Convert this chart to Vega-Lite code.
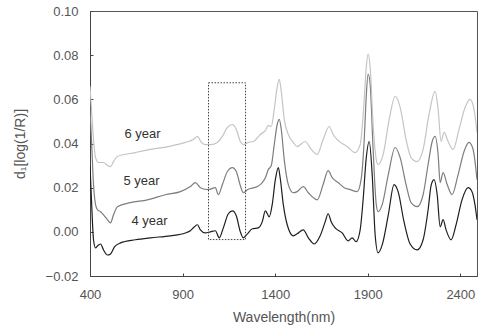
{
  "$schema": "https://vega.github.io/schema/vega-lite/v6.json",
  "width": 387,
  "height": 265,
  "autosize": {"type": "none"},
  "padding": {"left": 90, "top": 11, "right": 1, "bottom": 51},
  "background": "white",
  "config": {
    "view": {"stroke": "#555", "strokeWidth": 1},
    "font": "Liberation Sans",
    "axis": {"grid": false, "domainColor": "#444", "tickColor": "#444", "labelColor": "#555", "titleColor": "#555", "labelFontSize": 13, "titleFontSize": 14, "titleFontWeight": "normal", "labelFont": "Liberation Sans", "titleFont": "Liberation Sans"}
  },
  "datasets": {
    "spectra": [
      {"s":"4 year","x":400,"y":0.0300},{"s":"4 year","x":408,"y":0.0145},{"s":"4 year","x":419,"y":-0.0036},{"s":"4 year","x":430,"y":-0.0073},{"s":"4 year","x":440,"y":-0.0064},{"s":"4 year","x":457,"y":-0.0055},{"s":"4 year","x":473,"y":-0.0082},{"s":"4 year","x":494,"y":-0.0105},{"s":"4 year","x":511,"y":-0.0100},{"s":"4 year","x":532,"y":-0.0068},{"s":"4 year","x":565,"y":-0.0050},{"s":"4 year","x":645,"y":-0.0036},{"s":"4 year","x":726,"y":-0.0027},{"s":"4 year","x":834,"y":-0.0018},{"s":"4 year","x":915,"y":-0.0005},{"s":"4 year","x":942,"y":0.0005},{"s":"4 year","x":964,"y":0.0023},{"s":"4 year","x":980,"y":0.0032},{"s":"4 year","x":996,"y":0.0009},{"s":"4 year","x":1023,"y":-0.0005},{"s":"4 year","x":1050,"y":0.0000},{"s":"4 year","x":1077,"y":0.0005},{"s":"4 year","x":1098,"y":-0.0027},{"s":"4 year","x":1120,"y":0.0018},{"s":"4 year","x":1147,"y":0.0082},{"s":"4 year","x":1169,"y":0.0095},{"s":"4 year","x":1190,"y":0.0073},{"s":"4 year","x":1212,"y":0.0000},{"s":"4 year","x":1228,"y":-0.0027},{"s":"4 year","x":1250,"y":-0.0009},{"s":"4 year","x":1277,"y":0.0014},{"s":"4 year","x":1309,"y":0.0018},{"s":"4 year","x":1330,"y":0.0045},{"s":"4 year","x":1347,"y":0.0095},{"s":"4 year","x":1368,"y":0.0068},{"s":"4 year","x":1384,"y":0.0123},{"s":"4 year","x":1401,"y":0.0236},{"s":"4 year","x":1417,"y":0.0291},{"s":"4 year","x":1427,"y":0.0245},{"s":"4 year","x":1444,"y":0.0123},{"s":"4 year","x":1465,"y":0.0032},{"s":"4 year","x":1498,"y":-0.0018},{"s":"4 year","x":1519,"y":-0.0009},{"s":"4 year","x":1552,"y":0.0009},{"s":"4 year","x":1579,"y":-0.0027},{"s":"4 year","x":1611,"y":-0.0055},{"s":"4 year","x":1643,"y":-0.0018},{"s":"4 year","x":1670,"y":0.0045},{"s":"4 year","x":1686,"y":0.0082},{"s":"4 year","x":1703,"y":0.0045},{"s":"4 year","x":1724,"y":0.0018},{"s":"4 year","x":1762,"y":-0.0005},{"s":"4 year","x":1794,"y":-0.0041},{"s":"4 year","x":1816,"y":-0.0027},{"s":"4 year","x":1837,"y":-0.0045},{"s":"4 year","x":1859,"y":0.0009},{"s":"4 year","x":1875,"y":0.0145},{"s":"4 year","x":1891,"y":0.0327},{"s":"4 year","x":1908,"y":0.0409},{"s":"4 year","x":1924,"y":0.0259},{"s":"4 year","x":1940,"y":-0.0014},{"s":"4 year","x":1956,"y":-0.0095},{"s":"4 year","x":1978,"y":-0.0059},{"s":"4 year","x":2011,"y":0.0077},{"s":"4 year","x":2042,"y":0.0214},{"s":"4 year","x":2064,"y":0.0182},{"s":"4 year","x":2096,"y":0.0045},{"s":"4 year","x":2129,"y":-0.0055},{"s":"4 year","x":2167,"y":-0.0082},{"s":"4 year","x":2199,"y":-0.0036},{"s":"4 year","x":2226,"y":0.0100},{"s":"4 year","x":2242,"y":0.0209},{"s":"4 year","x":2258,"y":0.0236},{"s":"4 year","x":2275,"y":0.0168},{"s":"4 year","x":2291,"y":0.0023},{"s":"4 year","x":2307,"y":0.0055},{"s":"4 year","x":2323,"y":0.0009},{"s":"4 year","x":2350,"y":-0.0036},{"s":"4 year","x":2377,"y":0.0032},{"s":"4 year","x":2409,"y":0.0145},{"s":"4 year","x":2442,"y":0.0200},{"s":"4 year","x":2463,"y":0.0182},{"s":"4 year","x":2479,"y":0.0123},{"s":"4 year","x":2490,"y":0.0055},
      {"s":"5 year","x":400,"y":0.0555},{"s":"5 year","x":408,"y":0.0418},{"s":"5 year","x":419,"y":0.0214},{"s":"5 year","x":430,"y":0.0123},{"s":"5 year","x":440,"y":0.0100},{"s":"5 year","x":457,"y":0.0091},{"s":"5 year","x":473,"y":0.0077},{"s":"5 year","x":494,"y":0.0055},{"s":"5 year","x":511,"y":0.0041},{"s":"5 year","x":527,"y":0.0077},{"s":"5 year","x":548,"y":0.0114},{"s":"5 year","x":618,"y":0.0132},{"s":"5 year","x":710,"y":0.0145},{"s":"5 year","x":807,"y":0.0168},{"s":"5 year","x":888,"y":0.0182},{"s":"5 year","x":942,"y":0.0205},{"s":"5 year","x":969,"y":0.0223},{"s":"5 year","x":996,"y":0.0200},{"s":"5 year","x":1039,"y":0.0191},{"s":"5 year","x":1077,"y":0.0200},{"s":"5 year","x":1093,"y":0.0168},{"s":"5 year","x":1115,"y":0.0214},{"s":"5 year","x":1142,"y":0.0273},{"s":"5 year","x":1169,"y":0.0291},{"s":"5 year","x":1190,"y":0.0273},{"s":"5 year","x":1212,"y":0.0209},{"s":"5 year","x":1228,"y":0.0177},{"s":"5 year","x":1250,"y":0.0191},{"s":"5 year","x":1304,"y":0.0205},{"s":"5 year","x":1330,"y":0.0223},{"s":"5 year","x":1347,"y":0.0245},{"s":"5 year","x":1363,"y":0.0282},{"s":"5 year","x":1379,"y":0.0300},{"s":"5 year","x":1395,"y":0.0395},{"s":"5 year","x":1411,"y":0.0486},{"s":"5 year","x":1422,"y":0.0509},{"s":"5 year","x":1433,"y":0.0464},{"s":"5 year","x":1449,"y":0.0327},{"s":"5 year","x":1471,"y":0.0214},{"s":"5 year","x":1498,"y":0.0177},{"s":"5 year","x":1519,"y":0.0182},{"s":"5 year","x":1552,"y":0.0205},{"s":"5 year","x":1579,"y":0.0177},{"s":"5 year","x":1627,"y":0.0145},{"s":"5 year","x":1659,"y":0.0214},{"s":"5 year","x":1686,"y":0.0277},{"s":"5 year","x":1708,"y":0.0245},{"s":"5 year","x":1740,"y":0.0223},{"s":"5 year","x":1773,"y":0.0200},{"s":"5 year","x":1805,"y":0.0191},{"s":"5 year","x":1843,"y":0.0182},{"s":"5 year","x":1864,"y":0.0236},{"s":"5 year","x":1881,"y":0.0418},{"s":"5 year","x":1891,"y":0.0600},{"s":"5 year","x":1902,"y":0.0714},{"s":"5 year","x":1913,"y":0.0668},{"s":"5 year","x":1929,"y":0.0373},{"s":"5 year","x":1946,"y":0.0123},{"s":"5 year","x":1956,"y":0.0091},{"s":"5 year","x":1978,"y":0.0123},{"s":"5 year","x":2011,"y":0.0259},{"s":"5 year","x":2048,"y":0.0382},{"s":"5 year","x":2075,"y":0.0336},{"s":"5 year","x":2107,"y":0.0214},{"s":"5 year","x":2134,"y":0.0132},{"s":"5 year","x":2167,"y":0.0114},{"s":"5 year","x":2199,"y":0.0168},{"s":"5 year","x":2226,"y":0.0305},{"s":"5 year","x":2248,"y":0.0409},{"s":"5 year","x":2264,"y":0.0432},{"s":"5 year","x":2280,"y":0.0350},{"s":"5 year","x":2291,"y":0.0223},{"s":"5 year","x":2307,"y":0.0268},{"s":"5 year","x":2329,"y":0.0214},{"s":"5 year","x":2355,"y":0.0168},{"s":"5 year","x":2388,"y":0.0259},{"s":"5 year","x":2420,"y":0.0364},{"s":"5 year","x":2447,"y":0.0405},{"s":"5 year","x":2469,"y":0.0373},{"s":"5 year","x":2490,"y":0.0236},
      {"s":"6 year","x":400,"y":0.0659},{"s":"6 year","x":408,"y":0.0555},{"s":"6 year","x":419,"y":0.0418},{"s":"6 year","x":430,"y":0.0336},{"s":"6 year","x":446,"y":0.0314},{"s":"6 year","x":473,"y":0.0314},{"s":"6 year","x":494,"y":0.0300},{"s":"6 year","x":511,"y":0.0295},{"s":"6 year","x":527,"y":0.0318},{"s":"6 year","x":548,"y":0.0341},{"s":"6 year","x":645,"y":0.0359},{"s":"6 year","x":726,"y":0.0373},{"s":"6 year","x":823,"y":0.0386},{"s":"6 year","x":915,"y":0.0405},{"s":"6 year","x":958,"y":0.0418},{"s":"6 year","x":980,"y":0.0432},{"s":"6 year","x":1001,"y":0.0405},{"s":"6 year","x":1023,"y":0.0395},{"s":"6 year","x":1050,"y":0.0395},{"s":"6 year","x":1088,"y":0.0405},{"s":"6 year","x":1115,"y":0.0432},{"s":"6 year","x":1142,"y":0.0473},{"s":"6 year","x":1169,"y":0.0486},{"s":"6 year","x":1190,"y":0.0464},{"s":"6 year","x":1212,"y":0.0409},{"s":"6 year","x":1228,"y":0.0395},{"s":"6 year","x":1255,"y":0.0405},{"s":"6 year","x":1282,"y":0.0409},{"s":"6 year","x":1320,"y":0.0441},{"s":"6 year","x":1347,"y":0.0459},{"s":"6 year","x":1363,"y":0.0482},{"s":"6 year","x":1379,"y":0.0477},{"s":"6 year","x":1395,"y":0.0555},{"s":"6 year","x":1411,"y":0.0655},{"s":"6 year","x":1422,"y":0.0691},{"s":"6 year","x":1433,"y":0.0636},{"s":"6 year","x":1449,"y":0.0509},{"s":"6 year","x":1471,"y":0.0441},{"s":"6 year","x":1498,"y":0.0405},{"s":"6 year","x":1519,"y":0.0386},{"s":"6 year","x":1562,"y":0.0409},{"s":"6 year","x":1595,"y":0.0373},{"s":"6 year","x":1627,"y":0.0350},{"s":"6 year","x":1659,"y":0.0418},{"s":"6 year","x":1692,"y":0.0477},{"s":"6 year","x":1713,"y":0.0441},{"s":"6 year","x":1740,"y":0.0414},{"s":"6 year","x":1789,"y":0.0386},{"s":"6 year","x":1832,"y":0.0359},{"s":"6 year","x":1859,"y":0.0395},{"s":"6 year","x":1881,"y":0.0600},{"s":"6 year","x":1891,"y":0.0736},{"s":"6 year","x":1902,"y":0.0805},{"s":"6 year","x":1913,"y":0.0745},{"s":"6 year","x":1929,"y":0.0486},{"s":"6 year","x":1946,"y":0.0327},{"s":"6 year","x":1956,"y":0.0305},{"s":"6 year","x":1983,"y":0.0350},{"s":"6 year","x":2016,"y":0.0509},{"s":"6 year","x":2048,"y":0.0614},{"s":"6 year","x":2075,"y":0.0564},{"s":"6 year","x":2107,"y":0.0418},{"s":"6 year","x":2134,"y":0.0336},{"s":"6 year","x":2167,"y":0.0318},{"s":"6 year","x":2199,"y":0.0373},{"s":"6 year","x":2231,"y":0.0532},{"s":"6 year","x":2264,"y":0.0636},{"s":"6 year","x":2280,"y":0.0555},{"s":"6 year","x":2296,"y":0.0409},{"s":"6 year","x":2312,"y":0.0450},{"s":"6 year","x":2334,"y":0.0409},{"s":"6 year","x":2361,"y":0.0373},{"s":"6 year","x":2393,"y":0.0464},{"s":"6 year","x":2426,"y":0.0564},{"s":"6 year","x":2452,"y":0.0600},{"s":"6 year","x":2474,"y":0.0555},{"s":"6 year","x":2490,"y":0.0450}
    ],
    "labels": [
      {"label":"6 year","x":684,"y":0.0445},
      {"label":"5 year","x":678,"y":0.0232},
      {"label":"4 year","x":721,"y":0.0050}
    ],
    "box": [
      {"x1":1040,"x2":1240,"y1":-0.0035,"y2":0.0675}
    ]
  },
  "layer": [
    {
      "data": {"name": "spectra"},
      "mark": {"type": "line", "interpolate": "monotone", "strokeWidth": 1.2, "clip": true},
      "encoding": {
        "x": {"field": "x", "type": "quantitative", "scale": {"domain": [400, 2490], "nice": false, "zero": false},
              "axis": {"values": [400, 900, 1400, 1900, 2400], "format": "d", "title": "Wavelength(nm)", "tickSize": -3, "labelPadding": 15, "titlePadding": 9, "labelFlush": false}},
        "y": {"field": "y", "type": "quantitative", "scale": {"domain": [-0.02, 0.10], "nice": false, "zero": false},
              "axis": {"values": [-0.02, 0, 0.02, 0.04, 0.06, 0.08, 0.10], "format": ".2f", "title": "d₁[log(1/R)]", "tickSize": -3, "labelPadding": 15, "titlePadding": 18}},
        "color": {"field": "s", "type": "nominal", "scale": {"domain": ["4 year", "5 year", "6 year"], "range": ["#1e1e1e", "#7d7d7d", "#c4c4c4"]}, "legend": null},
        "detail": {"field": "s"}
      }
    },
    {
      "data": {"name": "box"},
      "mark": {"type": "rect", "fill": null, "filled": false, "stroke": "#444", "strokeWidth": 1, "strokeDash": [1.5, 1.5]},
      "encoding": {
        "x": {"field": "x1", "type": "quantitative"},
        "x2": {"field": "x2"},
        "y": {"field": "y1", "type": "quantitative"},
        "y2": {"field": "y2"}
      }
    },
    {
      "data": {"name": "labels"},
      "mark": {"type": "text", "fontSize": 13, "color": "#333", "font": "Liberation Sans"},
      "encoding": {
        "x": {"field": "x", "type": "quantitative"},
        "y": {"field": "y", "type": "quantitative"},
        "text": {"field": "label"}
      }
    }
  ]
}
